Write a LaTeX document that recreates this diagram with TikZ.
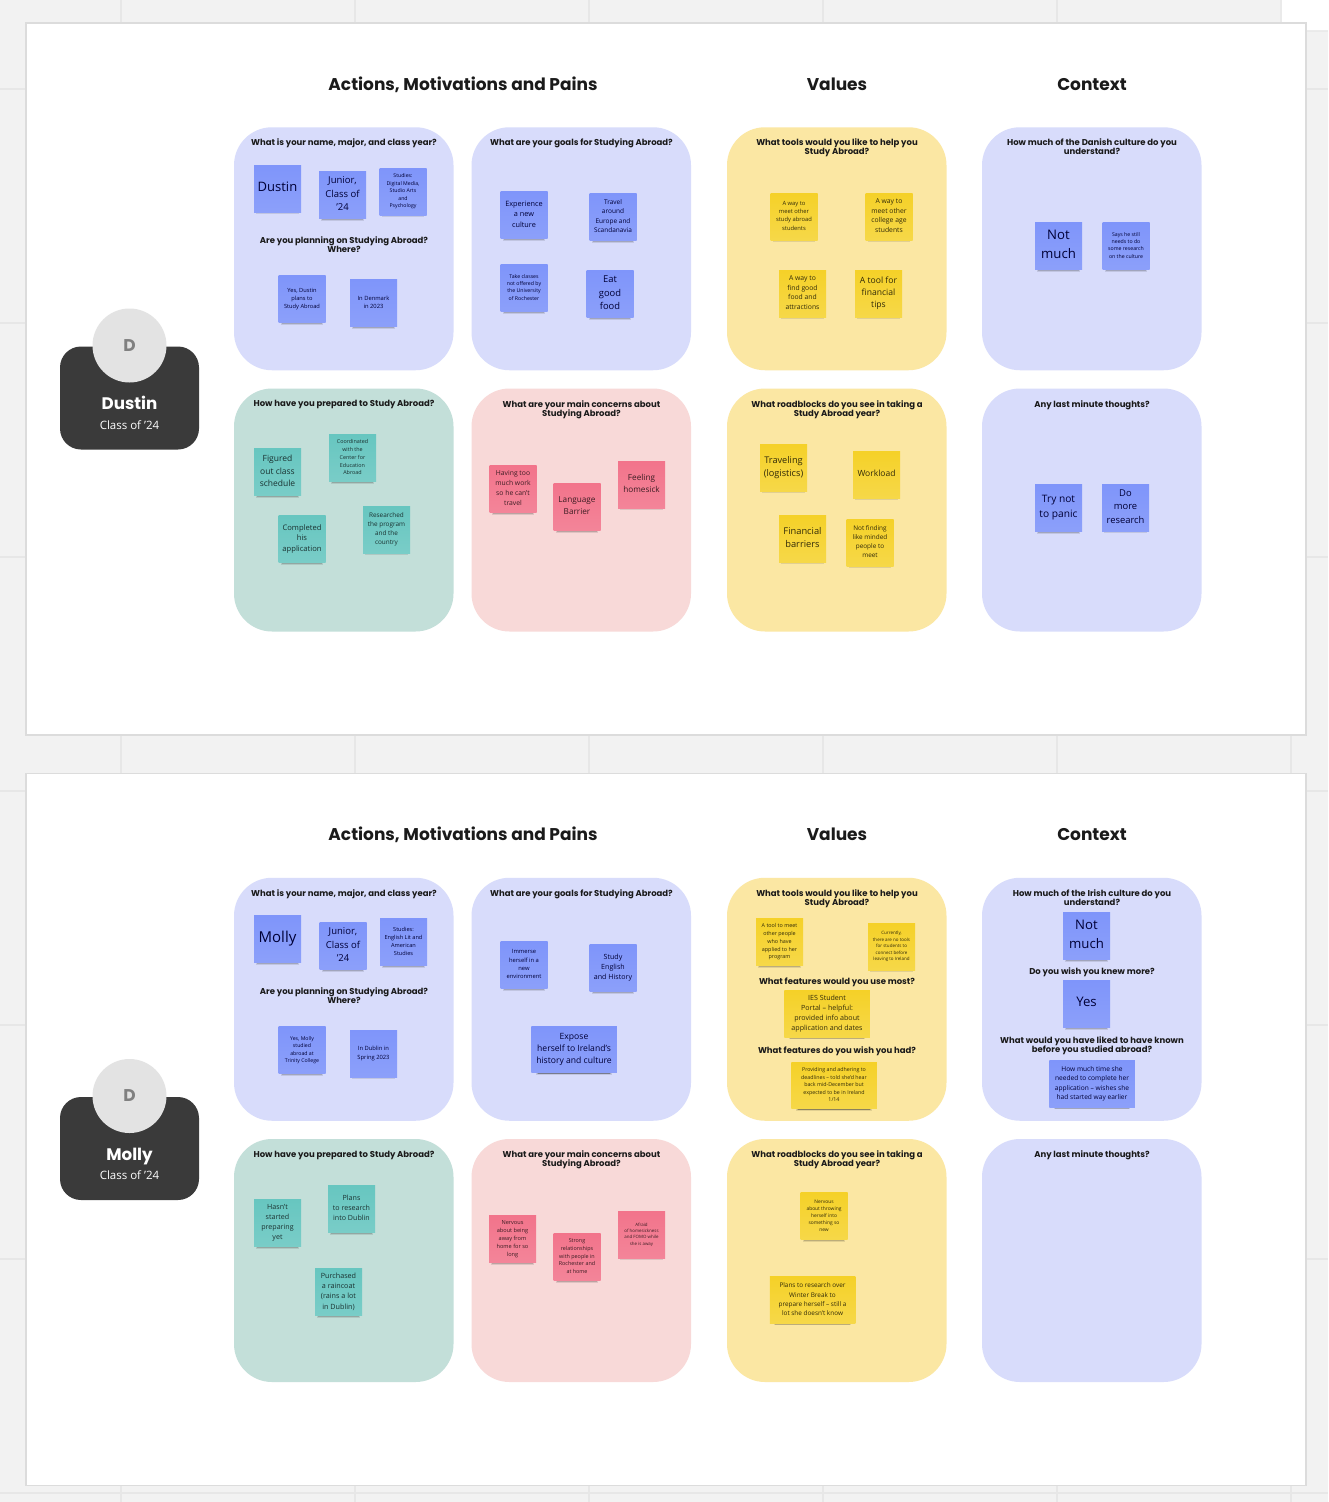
\documentclass[tikz,border=0pt]{standalone}
\usepackage{fontspec}
\setmainfont{Open Sans}
\newfontfamily\headfont{Poppins}
\usetikzlibrary{shadows}
\newcommand{\fs}[1]{\fontsize{#1}{1.43\dimexpr #1pt\relax}\selectfont}
\definecolor{gridbg}{HTML}{F2F2F2}
\definecolor{gridln}{HTML}{E7E7E7}
\definecolor{boardln}{HTML}{DCDCDC}
\definecolor{panelblue}{HTML}{D8DCFB}
\definecolor{panelyellow}{HTML}{FBE7A3}
\definecolor{panelgreen}{HTML}{C3DFD9}
\definecolor{panelpink}{HTML}{F8D9D8}
\definecolor{noteblue}{HTML}{7F95FA}
\definecolor{noteyellow}{HTML}{F5D128}
\definecolor{noteteal}{HTML}{67C6C0}
\definecolor{notepink}{HTML}{F2748B}
\definecolor{cardgrey}{HTML}{3A3A3A}
\definecolor{headink}{HTML}{1A1A1A}
\tikzset{
    node style board/.style={draw=boardln,line width=1.6pt,fill=white},
    node style panel/.style={rectangle,rounded corners=38pt,minimum width=219.5pt,minimum height=243pt,inner sep=0pt},
    node style head/.style={anchor=base,font=\headfont\bfseries\fontsize{17}{20}\selectfont,text=headink,inner sep=0pt},
    node style ask/.style={anchor=north,align=center,inner sep=0pt,text=headink,font=\headfont\bfseries\fontsize{8.5}{9.4}\selectfont},
    note size/.style={font=\fs{#1},text depth={#1*0.27pt}},
    node style note/.style={rectangle,align=center,inner sep=0pt,minimum width=47pt,minimum height=47pt,
        general shadow={fill=black,opacity=.10,shadow scale=.90,shadow yshift=-5pt},
        general shadow={fill=black,opacity=.16,shadow scale=.87,shadow yshift=-5.2pt},
        general shadow={fill=black,opacity=.25,shadow scale=.84,shadow yshift=-5.4pt}},
    node style wide/.style={minimum width=85.5pt,minimum height=46.5pt},
    node style blue/.style={node style note,top color=noteblue,bottom color=noteblue!90!white,text=black!70!blue!70!black},
    node style yellow/.style={node style note,top color=noteyellow,bottom color=noteyellow!85!white,text=black!80!noteyellow},
    node style teal/.style={node style note,top color=noteteal,bottom color=noteteal!88!white,text=black!75!noteteal},
    node style pink/.style={node style note,top color=notepink,bottom color=notepink!88!white,text=black!75!notepink},
}
\begin{document}
\begin{tikzpicture}[x=1pt,y=-1pt]
  \useasboundingbox (0,0) rectangle (1328,1502);
  \fill[gridbg] (0,0) rectangle (1328,1502);
  \foreach \x in {121,355,589,823,1057,1291}
    \draw[gridln,line width=1.2pt] (\x,0) -- (\x,1502);
  \foreach \y in {89,323,557,791,1025,1259,1493}
    \draw[gridln,line width=1.2pt] (0,\y) -- (1328,\y);
  \fill[black,opacity=.03] (1280,0) rectangle (1328,32);
  \fill[white,rounded corners=4pt] (1282,-6) rectangle (1336,30);

  % two boards, same frame
  \foreach \d/\who/\n in {0/Dustin/d,750.5/Molly/m} {
    \draw[node style board] (26,23+\d) rectangle (1306,735+\d);
    \node[node style head] (head-a-\n) at (463,90+\d) {Actions, Motivations and Pains};
    \node[node style head] (head-v-\n) at (837,90+\d) {Values};
    \node[node style head] (head-c-\n) at (1092,90+\d) {Context};
    \node[node style panel,fill=panelblue] (p1-\n) at (343.75,248.75+\d) {};
    \node[node style panel,fill=panelblue] (p2-\n) at (581.25,248.75+\d) {};
    \node[node style panel,fill=panelyellow] (p3-\n) at (836.75,248.75+\d) {};
    \node[node style panel,fill=panelblue] (p4-\n) at (1091.75,248.75+\d) {};
    \node[node style panel,fill=panelgreen] (p5-\n) at (343.75,510+\d) {};
    \node[node style panel,fill=panelpink] (p6-\n) at (581.25,510+\d) {};
    \node[node style panel,fill=panelyellow] (p7-\n) at (836.75,510+\d) {};
    \node[node style panel,fill=panelblue] (p8-\n) at (1091.75,510+\d) {};
    \node[node style ask] (q1-\n) at (344,138.5+\d) {What is your name, major, and class year?};
    \node[node style ask] (q1b-\n) at (344,236.5+\d) {Are you planning on Studying Abroad?\\Where?};
    \node[node style ask] (q2-\n) at (581.5,138.5+\d) {What are your goals for Studying Abroad?};
    \node[node style ask] (q3-\n) at (837,138.5+\d) {What tools would you like to help you\\Study Abroad?};
    \node[node style ask] (q5-\n) at (344,400+\d) {How have you prepared to Study Abroad?};
    \node[node style ask] (q6-\n) at (581.5,400+\d) {What are your main concerns about\\Studying Abroad?};
    \node[node style ask] (q7-\n) at (837,400+\d) {What roadblocks do you see in taking a\\Study Abroad year?};
    \node[node style ask] (q8-\n) at (1092,400+\d) {Any last minute thoughts?};
    % profile card
    \node[rectangle,rounded corners=21pt,fill=cardgrey,minimum width=139pt,minimum height=103pt] (card-\n) at (129.5,398+\d) {};
    \node[circle,fill=black!11,minimum size=74pt,inner sep=0pt,text=black!50,font=\headfont\bfseries\fontsize{17}{18}\selectfont] (face-\n) at (129.5,345.5+\d) {D};
    \node[text=white,anchor=base,inner sep=0pt,font=\headfont\bfseries\fontsize{16.7}{18}\selectfont] (name-\n) at (129.5,409.5+\d) {\who};
    \node[text=white,inner sep=0pt,font=\fs{11.5}] (class-\n) at (129.5,425+\d) {Class of '24};
  }
  \node[node style ask] (q4-d) at (1092,138.5) {How much of the Danish culture do you\\understand?};
  \node[node style ask] (q4-m) at (1092,889) {How much of the Irish culture do you\\understand?};
  \node[node style ask] (q4b-m) at (1092,967.5) {Do you wish you knew more?};
  \node[node style ask] (q4c-m) at (1092,1036.5) {What would you have liked to have known\\before you studied abroad?};
  \node[node style ask] (q3b-m) at (837,977.5) {What features would you use most?};
  \node[node style ask] (q3c-m) at (837,1046.5) {What features do you wish you had?};

  % Dustin
  \node[node style blue,note size=13] (dustin) at (277.5,188.5) {Dustin};
  \node[node style blue,note size=9.5] (junior-d) at (342.5,195) {Junior,\\Class of\\'24};
  \node[node style blue,note size=5.2] (studies-d) at (403,191.5) {Studies:\\Digital Media,\\Studio Arts\\and\\Psychology};
  \node[node style blue,note size=5.7] (plans-d) at (302,299) {Yes, Dustin\\plans to\\Study Abroad};
  \node[node style blue,note size=5.8] (where-d) at (373.5,303) {In Denmark\\in 2023};
  \node[node style blue,note size=7.3] (goal-a) at (524,215) {Experience\\a new\\culture};
  \node[node style blue,note size=6.5] (goal-b) at (613,217) {Travel\\around\\Europe and\\Scandanavia};
  \node[node style blue,note size=5.2] (goal-c) at (524,288) {Take classes\\not offered by\\the University\\of Rochester};
  \node[node style blue,note size=9.4] (goal-d) at (610,294) {Eat\\good\\food};
  \node[node style yellow,note size=5.8] (tool-a) at (794,216.5) {A way to\\meet other\\study abroad\\students};
  \node[node style yellow,note size=6.8] (tool-b) at (889,216.5) {A way to\\meet other\\college age\\students};
  \node[node style yellow,note size=6.8] (tool-c) at (802.5,293.5) {A way to\\find good\\food and\\attractions};
  \node[node style yellow,note size=8.6] (tool-d) at (878.5,293.5) {A tool for\\financial\\tips};
  \node[node style blue,note size=13.2] (know-d) at (1058.5,246) {Not\\much};
  \node[node style blue,note size=5.2] (says-d) at (1126,246) {Says he still\\needs to do\\some research\\on the culture};
  \node[node style teal,note size=8.5] (prep-a) at (277.5,472) {Figured\\out class\\schedule};
  \node[node style teal,note size=5.4] (prep-b) at (352.5,458) {Coordinated\\with the\\Center for\\Education\\Abroad};
  \node[node style teal,note size=7.6] (prep-c) at (302,539) {Completed\\his\\application};
  \node[node style teal,note size=6.4] (prep-d) at (386.5,529.5) {Researched\\the program\\and the\\country};
  \node[node style pink,note size=6.8] (pain-a) at (513,489) {Having too\\much work\\so he can't\\travel};
  \node[node style pink,note size=8.2] (pain-b) at (577,507) {Language\\Barrier};
  \node[node style pink,note size=8.2] (pain-c) at (641.5,484.5) {Feeling\\homesick};
  \node[node style yellow,note size=9.2] (block-a) at (783.5,467.5) {Traveling\\(logistics)};
  \node[node style yellow,note size=8.5] (block-b) at (876.5,474.5) {Workload};
  \node[node style yellow,note size=9.3] (block-c) at (802.5,538.5) {Financial\\barriers};
  \node[node style yellow,note size=6.4] (block-d) at (870,542.5) {Not finding\\like minded\\people to\\meet};
  \node[node style blue,note size=10.2] (last-a) at (1058.5,508) {Try not\\to panic};
  \node[node style blue,note size=9.4] (last-b) at (1125.5,507.5) {Do\\more\\research};

  % Molly
  \node[node style blue,note size=15] (molly) at (277.5,939) {Molly};
  \node[node style blue,note size=9.5] (junior-m) at (343,946) {Junior,\\Class of\\'24};
  \node[node style blue,note size=5.6] (studies-m) at (403.5,942) {Studies:\\English Lit and\\American\\Studies};
  \node[node style blue,note size=5.2] (plans-m) at (302,1050) {Yes, Molly\\studied\\abroad at\\Trinity College};
  \node[node style blue,note size=5.8] (where-m) at (373.5,1053.5) {In Dublin in\\Spring 2023};
  \node[node style blue,note size=5.8] (aim-a) at (524,965) {Immerse\\herself in a\\new\\environment};
  \node[node style blue,note size=7.1] (aim-b) at (613,968) {Study\\English\\and History};
  \node[node style blue,node style wide,note size=8.6] (aim-c) at (574,1049.5) {Expose\\herself to Ireland's\\history and culture};
  \node[node style yellow,note size=5.4] (use-a) at (779.5,942) {A tool to meet\\other people\\who have\\applied to her\\program};
  \node[node style yellow,note size=4.5] (use-b) at (891.5,946.5) {Currently,\\there are no tools\\for students to\\connect before\\leaving to Ireland};
  \node[node style yellow,node style wide,note size=7.1] (use-c) at (827,1014) {IES Student\\Portal -- helpful:\\provided info about\\application and dates};
  \node[node style yellow,node style wide,note size=5.3] (use-d) at (834,1085.5) {Providing and adhering to\\deadlines -- told she'd hear\\back mid-December but\\expected to be in Ireland\\1/14};
  \node[node style blue,note size=13.2] (know-m) at (1086.5,936) {Not\\much};
  \node[node style blue,note size=13.2] (wish-m) at (1086.5,1004) {Yes};
  \node[node style blue,node style wide,note size=6.6] (known-m) at (1092,1084) {How much time she\\needed to complete her\\application -- wishes she\\had started way earlier};
  \node[node style teal,note size=7.1] (ready-a) at (277.5,1223) {Hasn't\\started\\preparing\\yet};
  \node[node style teal,note size=7.1] (ready-b) at (351.5,1209) {Plans\\to research\\into Dublin};
  \node[node style teal,note size=7.2] (ready-c) at (338.5,1292) {Purchased\\a raincoat\\(rains a lot\\in Dublin)};
  \node[node style pink,note size=5.6] (fear-a) at (512.5,1239) {Nervous\\about being\\away from\\home for so\\long};
  \node[node style pink,note size=5.4] (fear-b) at (577,1257) {Strong\\relationships\\with people in\\Rochester and\\at home};
  \node[node style pink,note size=4.4] (fear-c) at (641.5,1234.5) {Afraid\\of homesickness\\and FOMO while\\she is away};
  \node[node style yellow,note size=4.9] (stop-a) at (824,1216) {Nervous\\about throwing\\herself into\\something so\\new};
  \node[node style yellow,node style wide,note size=6.4] (stop-b) at (812.5,1300) {Plans to research over\\Winter Break to\\prepare herself -- still a\\lot she doesn't know};
\end{tikzpicture}
\end{document}
